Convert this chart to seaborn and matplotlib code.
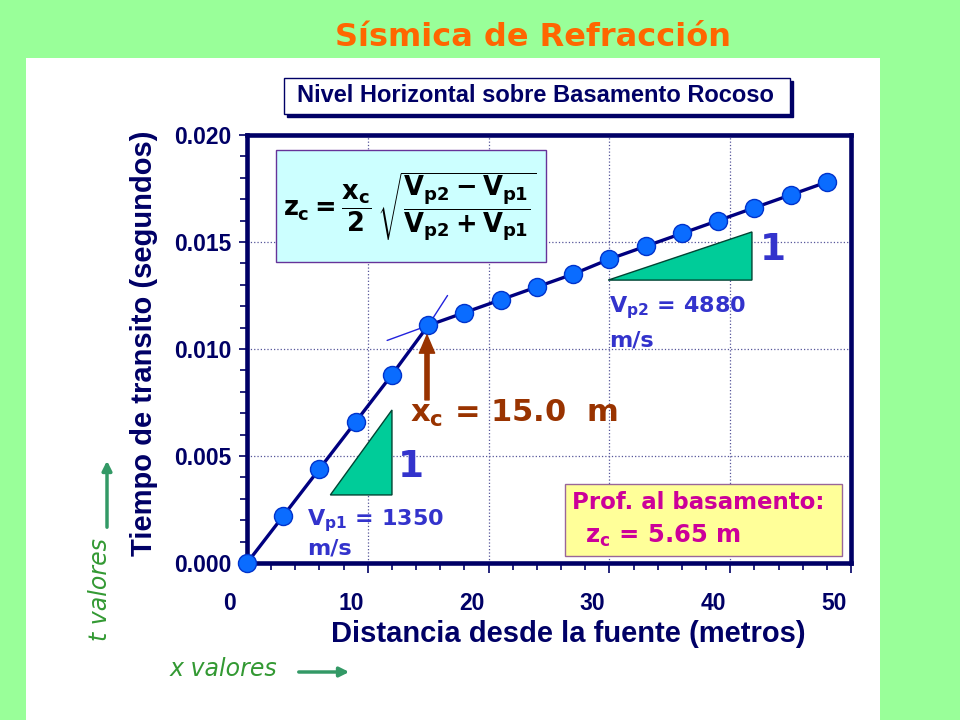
import numpy as np
import pandas as pd
import seaborn as sns
import matplotlib
matplotlib.use("Agg")
import matplotlib.pyplot as plt
from matplotlib.patches import Rectangle, Polygon, FancyArrowPatch
from matplotlib.transforms import ScaledTranslation
from matplotlib.ticker import MultipleLocator, FormatStrFormatter

# ---------------- data ----------------
distancia_m = [0, 3, 6, 9, 12, 15, 18, 21, 24, 27, 30, 33, 36, 39, 42, 45, 48]
tiempo_s = [0.0000, 0.0022, 0.0044, 0.0066, 0.0088, 0.0111, 0.0117, 0.0123,
            0.0129, 0.0135, 0.0142, 0.0148, 0.0154, 0.0160, 0.0166, 0.0172, 0.0178]
x_ticks = [0, 10, 20, 30, 40, 50]
y_ticks = [0.000, 0.005, 0.010, 0.015, 0.020]
xc_m = 15.0
vp1, vp2 = 1350, 4880
zc_m = 5.65

sns.set_style("white")
plt.rcParams['font.family'] = ['Liberation Sans', 'DejaVu Sans']
plt.rcParams['mathtext.fontset'] = 'custom'
plt.rcParams['mathtext.rm'] = 'DejaVu Sans:bold'
plt.rcParams['mathtext.it'] = 'DejaVu Sans:bold'
plt.rcParams['mathtext.bf'] = 'DejaVu Sans:bold'

NAVY = '#000066'
BLUE_TXT = '#3333CC'
BROWN = '#993300'
GREEN_BG = '#99FF99'
TRI = '#00CC99'

W, H = 960, 720
fig = plt.figure(figsize=(9.6, 7.2), dpi=100, facecolor=GREEN_BG)

def fx(px):
    return px / W

def fy(py):
    return 1 - py / H

# white panel
fig.add_artist(Rectangle((fx(26), 0), fx(880) - fx(26), fy(58), transform=fig.transFigure,
                         facecolor='white', edgecolor='none', zorder=0))

# title
fig.text(fx(533), fy(37), 'Sísmica de Refracción', color='#FF6600', fontsize=23,
         fontweight='bold', family=['DejaVu Sans'], ha='center', va='center')

# subtitle box with shadow
fig.add_artist(Rectangle((fx(287), fy(117)), fx(793) - fx(287), fy(81) - fy(117),
                         transform=fig.transFigure, facecolor=NAVY, edgecolor=NAVY, zorder=1))
fig.add_artist(Rectangle((fx(284), fy(114)), fx(790) - fx(284), fy(78) - fy(114),
                         transform=fig.transFigure, facecolor='white', edgecolor=NAVY,
                         linewidth=1.0, zorder=2))
fig.text(fx(535), fy(96), 'Nivel Horizontal sobre Basamento Rocoso', color=NAVY,
         fontsize=17, fontweight='bold', family=['Liberation Sans'],
         ha='center', va='center', zorder=3)

# axes
ax = fig.add_axes([fx(247), fy(563), fx(851) - fx(247), fy(135) - fy(563)])
ax.set_facecolor('white')

df = pd.DataFrame({'dist': distancia_m, 'tiempo': tiempo_s})
sns.lineplot(data=df, x='dist', y='tiempo', ax=ax, color='#000080', linewidth=2.4,
             marker='o', markersize=13, markerfacecolor='#0A6CFF',
             markeredgecolor='#0033CC', markeredgewidth=1.0, zorder=5, clip_on=False)

ax.set_xlim(0, 50)
ax.set_ylim(0, 0.020)
ax.set_xticks(x_ticks)
ax.set_yticks(y_ticks)
ax.xaxis.set_minor_locator(MultipleLocator(2))
ax.yaxis.set_minor_locator(MultipleLocator(0.001))
ax.yaxis.set_major_formatter(FormatStrFormatter('%.3f'))
ax.grid(True, which='major', linestyle=':', color='#555599', linewidth=0.9)
for s in ax.spines.values():
    s.set_color(NAVY)
    s.set_linewidth(3.3)
ax.tick_params(axis='both', which='both', direction='out', color=NAVY, width=1.2,
               labelcolor=NAVY, labelsize=16.5, bottom=True, left=True,
               top=False, right=False)
ax.tick_params(axis='x', which='major', length=7, pad=14)
ax.tick_params(axis='x', which='minor', length=5)
ax.tick_params(axis='y', which='major', length=6, pad=5)
ax.tick_params(axis='y', which='minor', length=5)
for lab in ax.get_xticklabels() + ax.get_yticklabels():
    lab.set_fontweight('bold')
for lab in ax.get_xticklabels():
    lab.set_transform(lab.get_transform() + ScaledTranslation(-0.17, 0, fig.dpi_scale_trans))

ax.set_xlabel('Distancia desde la fuente (metros)', color=NAVY, fontsize=21,
              fontweight='bold')
ax.set_ylabel('Tiempo de transito (segundos)', color=NAVY, fontsize=21,
              fontweight='bold')
ax.xaxis.set_label_coords((568 - 247) / 604, -(620 - 563) / 428)
ax.yaxis.set_label_coords(-(247 - 158) / 604, (563 - 343) / 428)

# tangent extension lines at crossover
ax.plot([11.6, xc_m], [0.0104, 0.0111], color='#2222DD', linewidth=1.0, zorder=4)
ax.plot([xc_m, 16.6], [0.0111, 0.0125], color='#2222DD', linewidth=1.0, zorder=4)

# slope triangles
ax.add_patch(Polygon([[6.9, 0.00318], [12.0, 0.00715], [12.0, 0.00318]], closed=True,
                     facecolor=TRI, edgecolor='#004433', linewidth=1.0, zorder=3))
ax.add_patch(Polygon([[29.9, 0.01322], [41.8, 0.01547], [41.8, 0.01322]], closed=True,
                     facecolor=TRI, edgecolor='#004433', linewidth=1.0, zorder=3))
ax.text(13.6, 0.00449, '1', color=BLUE_TXT, fontsize=27, fontweight='bold',
        family=['DejaVu Sans'], ha='center', va='center', zorder=6)
ax.text(43.5, 0.01463, '1', color=BLUE_TXT, fontsize=27, fontweight='bold',
        family=['DejaVu Sans'], ha='center', va='center', zorder=6)

# velocity labels
ax.text(4.95, 0.00196, r'V$_{\mathrm{p1}}$ = %d' % vp1, color=BLUE_TXT, fontsize=16,
        fontweight='bold', family=['DejaVu Sans'], ha='left', va='center', zorder=6)
ax.text(4.95, 0.00068, 'm/s', color=BLUE_TXT, fontsize=16, fontweight='bold',
        family=['DejaVu Sans'], ha='left', va='center', zorder=6)
ax.text(30.0, 0.01192, r'V$_{\mathrm{p2}}$ = %d' % vp2, color=BLUE_TXT, fontsize=16,
        fontweight='bold', family=['DejaVu Sans'], ha='left', va='center', zorder=6)
ax.text(30.0, 0.01042, 'm/s', color=BLUE_TXT, fontsize=16, fontweight='bold',
        family=['DejaVu Sans'], ha='left', va='center', zorder=6)

# crossover arrow and label
ax.annotate('', xy=(14.9, 0.01065), xytext=(14.9, 0.00762),
            arrowprops=dict(facecolor=BROWN, edgecolor=BROWN, width=3, headwidth=11,
                            headlength=13), zorder=6)
ax.text(13.5, 0.0070, r'x$_{\mathrm{c}}$ = %.1f  m' % xc_m, color=BROWN, fontsize=22,
        fontweight='bold', family=['DejaVu Sans'], ha='left', va='center', zorder=6)

# depth box
ax.add_patch(Rectangle((26.3, 0.00033), 49.25 - 26.3, 0.00369 - 0.00033,
                       facecolor='#FFFF99', edgecolor='#996699', linewidth=1.0, zorder=4))
ax.text(26.9, 0.00285, 'Prof. al basamento:', color='#CC0099', fontsize=16.5,
        family=['DejaVu Sans'], fontweight='bold', ha='left', va='center', zorder=6)
ax.text(28.0, 0.00126, r'z$_{\mathrm{c}}$ = %.2f m' % zc_m, color='#CC0099', fontsize=17.5,
        family=['DejaVu Sans'], fontweight='bold', ha='left', va='center', zorder=6)

# formula box
fig.add_artist(Rectangle((fx(276), fy(262)), fx(546) - fx(276), fy(150) - fy(262),
                         transform=fig.transFigure, facecolor='#CCFFFF', edgecolor='#663399',
                         linewidth=1.0, zorder=10))
fig.text(fx(410), fy(207),
         r'$z_c = \dfrac{x_c}{2}\,\sqrt{\dfrac{V_{p2} - V_{p1}}{V_{p2} + V_{p1}}}$',
         color='black', fontsize=18.5, ha='center', va='center', zorder=11)

# side hints
fig.text(fx(100), fy(590), 't valores', color='#339933', fontsize=17, style='italic',
         family=['DejaVu Sans'], rotation=90, ha='center', va='center')
fig.add_artist(FancyArrowPatch((fx(107), fy(530)), (fx(107), fy(458)),
               transform=fig.transFigure, arrowstyle='-|>', mutation_scale=14,
               color='#339966', linewidth=2.5))
fig.text(fx(223), fy(669), 'x valores', color='#339933', fontsize=17, style='italic',
         family=['DejaVu Sans'], ha='center', va='center')
fig.add_artist(FancyArrowPatch((fx(296), fy(672)), (fx(352), fy(672)),
               transform=fig.transFigure, arrowstyle='-|>', mutation_scale=14,
               color='#339966', linewidth=2.5))

fig.savefig('out.png', dpi=100, facecolor=fig.get_facecolor())
